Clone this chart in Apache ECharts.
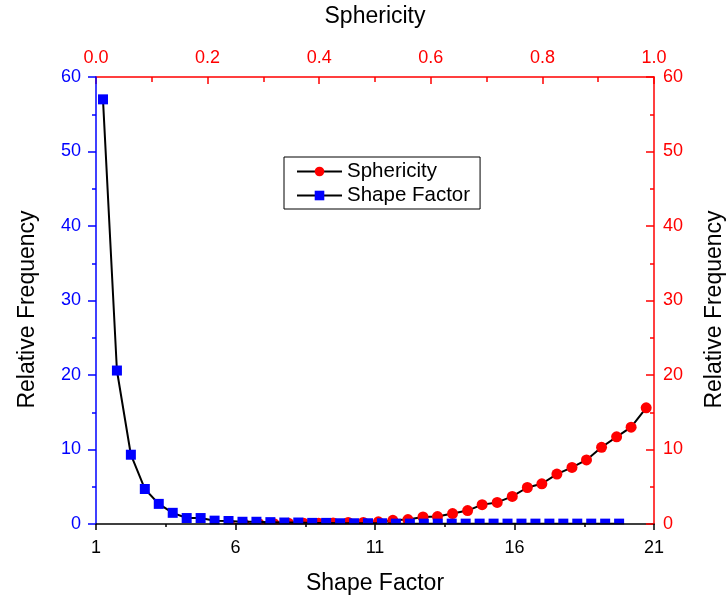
<!DOCTYPE html>
<html><head><meta charset="utf-8">
<script src="https://cdn.jsdelivr.net/npm/echarts@6/dist/echarts.min.js"></script>
<style>html,body{margin:0;padding:0;background:#fff;overflow:hidden}#c{width:727px;height:598px}</style>
</head><body><div id="c"></div>
<script>
// Shape Factor series (bottom / left axes)
const shapeX = [1.25,1.75,2.25,2.75,3.25,3.75,4.25,4.75,5.25,5.75,6.25,6.75,7.25,7.75,8.25,8.75,9.25,9.75,10.25,10.75,11.25,11.75,12.25,12.75,13.25,13.75,14.25,14.75,15.25,15.75,16.25,16.75,17.25,17.75,18.25,18.75,19.25,19.75];
const shapeY = [57.0,20.6,9.3,4.7,2.7,1.5,0.8,0.8,0.45,0.4,0.3,0.3,0.25,0.2,0.2,0.15,0.15,0.1,0.1,0.1,0.1,0.05,0.05,0.05,0.05,0.05,0.05,0.05,0.05,0.05,0.05,0.05,0.05,0.05,0.05,0.05,0.05,0.05];
// Sphericity series (top / right axes)
const sphX = [0.239,0.265,0.292,0.319,0.345,0.372,0.399,0.425,0.452,0.479,0.506,0.532,0.559,0.586,0.612,0.639,0.666,0.692,0.719,0.746,0.773,0.799,0.826,0.853,0.879,0.906,0.933,0.959,0.986];
const sphY = [0.03,0.05,0.05,0.05,0.1,0.1,0.1,0.15,0.2,0.2,0.3,0.5,0.6,0.95,1.0,1.4,1.8,2.6,2.9,3.7,4.9,5.4,6.7,7.6,8.6,10.3,11.7,13.0,15.6];
const bottomTicks = [1,6,11,16,21];
const topTicks = [0.0,0.2,0.4,0.6,0.8,1.0];

const FONT = 'Liberation Sans';
const chart = echarts.init(document.getElementById('c'), null, {renderer:'canvas',width:727,height:598});
chart.setOption({
  animation:false,
  backgroundColor:'#fff',
  textStyle:{fontFamily:FONT},
  grid:{left:96,right:73,top:77,bottom:74,containLabel:false,outerBoundsMode:'none'},
  legend:{
    orient:'vertical', left:284, top:157,
    backgroundColor:'#fff', borderColor:'#000', borderWidth:1,
    padding:[4,10,3,12], itemGap:3, itemWidth:45, itemHeight:12,
    textStyle:{fontFamily:FONT,fontSize:20.5,color:'#000'},
    data:['Sphericity','Shape Factor']
  },
  xAxis:[
    {type:'value',position:'bottom',min:1,max:21,interval:5,z:20,
     name:'Shape Factor',nameLocation:'middle',nameGap:48,
     nameTextStyle:{fontFamily:FONT,fontSize:23,color:'#000'},
     axisLine:{onZero:false,lineStyle:{color:'#000',width:1.5}},
     axisTick:{inside:false,length:6,lineStyle:{color:'#000',width:1.5}},
     minorTick:{show:true,splitNumber:2,length:3,lineStyle:{color:'#000',width:1.5}},
     axisLabel:{fontFamily:FONT,fontSize:18,color:'#000',margin:15,
       formatter:v=>bottomTicks.includes(v)?String(v):''},
     splitLine:{show:false}},
    {type:'value',position:'top',min:0,max:1,interval:0.2,
     name:'Sphericity',nameLocation:'middle',nameGap:49,
     nameTextStyle:{fontFamily:FONT,fontSize:23,color:'#000'},
     axisLine:{onZero:false,lineStyle:{color:'#f00',width:1.5}},
     axisTick:{inside:true,length:7,lineStyle:{color:'#f00',width:1.5}},
     minorTick:{show:true,splitNumber:2,length:5,lineStyle:{color:'#f00',width:1.5}},
     axisLabel:{fontFamily:FONT,fontSize:18,color:'#f00',margin:10,
       formatter:v=>topTicks.some(t=>Math.abs(t-v)<1e-9)?v.toFixed(1):''},
     splitLine:{show:false}}
  ],
  yAxis:[
    {type:'value',position:'left',min:0,max:60,interval:10,z:20,
     name:'Relative Frequency',nameLocation:'middle',nameGap:57,
     nameTextStyle:{fontFamily:FONT,fontSize:23,color:'#000',padding:[0,18,0,0]},
     axisLine:{show:true,onZero:false,lineStyle:{color:'#00f',width:1.5}},
     axisTick:{show:true,inside:false,length:8,lineStyle:{color:'#00f',width:1.5}},
     minorTick:{show:true,splitNumber:2,length:4,lineStyle:{color:'#00f',width:1.5}},
     axisLabel:{fontFamily:FONT,fontSize:18,color:'#00f',margin:15},
     splitLine:{show:false}},
    {type:'value',position:'right',min:0,max:60,interval:10,z:20,
     name:'Relative Frequency',nameLocation:'middle',nameGap:49,
     nameTextStyle:{fontFamily:FONT,fontSize:23,color:'#000',padding:[0,18,0,0]},
     axisLine:{show:true,onZero:false,lineStyle:{color:'#f00',width:1.5}},
     axisTick:{show:true,inside:true,length:8,lineStyle:{color:'#f00',width:1.5}},
     minorTick:{show:true,splitNumber:2,length:4,lineStyle:{color:'#f00',width:1.5}},
     axisLabel:{fontFamily:FONT,fontSize:18,color:'#f00',margin:9},
     splitLine:{show:false}}
  ],
  series:[
    {name:'Sphericity',type:'line',xAxisIndex:1,yAxisIndex:1,
     data:sphX.map((x,i)=>[x,sphY[i]]),
     smooth:false,symbol:'circle',symbolSize:11,showAllSymbol:true,
     itemStyle:{color:'#f00'},lineStyle:{color:'#000',width:2},z:3},
    {name:'Shape Factor',type:'line',xAxisIndex:0,yAxisIndex:0,
     data:shapeX.map((x,i)=>[x,shapeY[i]]),
     smooth:false,symbol:'rect',symbolSize:10,showAllSymbol:true,
     itemStyle:{color:'#00f'},lineStyle:{color:'#000',width:2},z:4}
  ]
});
// Mask marks below the zero line (the original clips symbols at the plot frame)
const y0 = chart.convertToPixel({yAxisIndex:0}, 0);
const xa = chart.convertToPixel({xAxisIndex:0}, 1);
const xb = chart.convertToPixel({xAxisIndex:0}, 21);
chart.setOption({graphic:[{type:'rect',z:10,silent:true,
  shape:{x:xa+1,y:y0+0.5,width:xb-xa-2,height:8},style:{fill:'#fff'}}]});
</script></body></html>
